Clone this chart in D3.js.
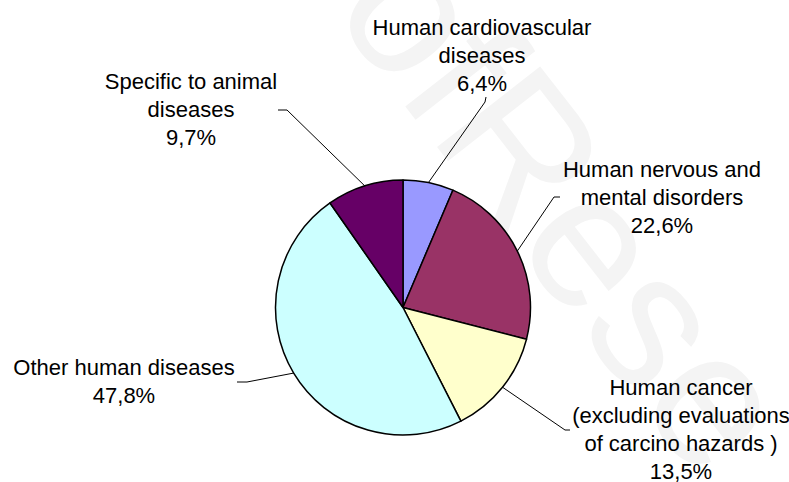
<!DOCTYPE html>
<html>
<head>
<meta charset="utf-8">
<script src="https://cdnjs.cloudflare.com/ajax/libs/d3/7.8.5/d3.min.js"></script>
<style>
  body { margin: 0; background: #fff; }
  text { font-family: "Liberation Sans", Arial, sans-serif; font-size: 22px; fill: #000; }
</style>
</head>
<body>
<div id="chart"></div>
<script>
const CATEGORIES = [
  "Human cardiovascular diseases",
  "Human nervous and mental disorders",
  "Human cancer (excluding evaluations of carcino hazards )",
  "Other human diseases",
  "Specific to animal diseases"
];
const VALUES = [6.4, 22.6, 13.5, 47.8, 9.7];
const LABEL_LINES = [
  ["Human cardiovascular", "diseases"],
  ["Human nervous and", "mental disorders"],
  ["Human cancer", "(excluding evaluations", "of carcino hazards )"],
  ["Other human diseases"],
  ["Specific to animal", "diseases"]
];
const COLORS = ["#9999FF", "#993366", "#FFFFCC", "#CCFFFF", "#660066"];

const WIDTH = 789;
const HEIGHT = 482;
const CENTER = { X: 403, Y: 307.5 };
const RADIUS = 127.5;
const LINE_HEIGHT = 28;

// label anchor (centre x, first baseline) and leader elbow points
const LABEL_LAYOUT = [
  { x: 482, y: 35, leader: [[486, 97], [485, 102]] },
  { x: 662, y: 177, leader: [[560, 197], [554, 197]] },
  { x: 681, y: 395, leader: [[570, 430], [565, 430]] },
  { x: 124, y: 375, leader: [[237, 382], [247, 382]] },
  { x: 191, y: 89, leader: [[278, 110], [287, 110]] }
];

const SVG = d3.select("#chart").append("svg")
  .attr("width", WIDTH)
  .attr("height", HEIGHT);

// faint watermark behind the chart
SVG.append("text")
  .attr("transform", "translate(330, 10) rotate(52)")
  .style("font-size", "190px")
  .style("fill", "#f4f4f4")
  .text("ofRese");

const CHART = SVG.append("g")
  .attr("transform", "translate(" + CENTER.X + ", " + CENTER.Y + ")");

const PIE = d3.pie().sort(null).value((d) => d.value);
const ARC = d3.arc().innerRadius(0).outerRadius(RADIUS);
const EDGE = d3.arc().innerRadius(RADIUS).outerRadius(RADIUS);

const DATA = CATEGORIES.map((c, i) => ({ name: c, value: VALUES[i], color: COLORS[i] }));
const SLICES = PIE(DATA);

CHART.selectAll(".slice")
  .data(SLICES)
  .enter()
  .append("path")
  .attr("class", "slice")
  .attr("d", ARC)
  .style("fill", (d) => d.data.color)
  .style("stroke", "#000")
  .style("stroke-width", 1.5)
  .style("stroke-linejoin", "round");

const FORMAT = (v) => v.toFixed(1).replace(".", ",") + "%";

SLICES.forEach((s, i) => {
  const layout = LABEL_LAYOUT[i];
  const edge = EDGE.centroid(s);
  const pts = layout.leader
    .map((p) => [p[0] - CENTER.X, p[1] - CENTER.Y])
    .concat([edge]);
  CHART.append("path")
    .attr("d", d3.line()(pts))
    .style("fill", "none")
    .style("stroke", "#000")
    .style("stroke-width", 1);

  const lines = LABEL_LINES[i].concat([FORMAT(s.data.value)]);
  const label = SVG.append("text")
    .attr("text-anchor", "middle");
  lines.forEach((t, j) => {
    label.append("tspan")
      .attr("x", layout.x)
      .attr("y", layout.y + j * LINE_HEIGHT)
      .text(t);
  });
});
</script>
</body>
</html>
